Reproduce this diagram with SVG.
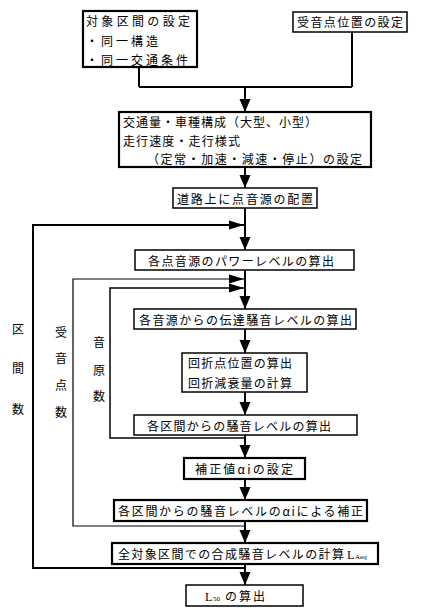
<svg xmlns="http://www.w3.org/2000/svg" width="428" height="614" viewBox="0 0 428 614">
<style>
.b{fill:#fff;stroke:#000;stroke-width:1.5}
.bt{fill:#fff;stroke:#000;stroke-width:2.2}
.t{font-family:"Noto Sans CJK JP","Liberation Sans",sans-serif;font-size:12px;fill:#000}
.s{font-family:"Liberation Serif",serif;font-size:7px;fill:#000}
.L{font-family:"Liberation Serif",serif;font-size:12px;fill:#000}
.c{fill:none;stroke:#000;stroke-width:2}
.c1{fill:none;stroke:#000;stroke-width:1.2}
</style>
<defs>
<marker id="ah" markerUnits="userSpaceOnUse" markerWidth="14" markerHeight="12" refX="13" refY="6" orient="auto">
<path d="M0,0.5 L13,6 L0,11.5 z" fill="#000"/>
</marker>
<marker id="as" markerUnits="userSpaceOnUse" markerWidth="16" markerHeight="10" refX="15" refY="5" orient="auto">
<path d="M0,0.5 L15,5 L0,9.5 z" fill="#000"/>
</marker>
</defs>
<g id="connectors">
<path class="c" d="M139,67 V87 M352,32 V87 M139,87 H352"/>
<line class="c" x1="245" y1="87" x2="245" y2="112" marker-end="url(#ah)"/>
<line class="c" x1="245" y1="167" x2="245" y2="188" marker-end="url(#ah)"/>
<line class="c" x1="245" y1="208" x2="245" y2="250" marker-end="url(#ah)"/>
<line class="c" x1="245" y1="270" x2="245" y2="309" marker-end="url(#ah)"/>
<line class="c" x1="245" y1="329" x2="245" y2="353" marker-end="url(#ah)"/>
<line class="c" x1="245" y1="392" x2="245" y2="415" marker-end="url(#ah)"/>
<line class="c" x1="245" y1="435" x2="245" y2="458" marker-end="url(#ah)"/>
<line class="c" x1="245" y1="479" x2="245" y2="500" marker-end="url(#ah)"/>
<line class="c" x1="245" y1="521" x2="245" y2="543" marker-end="url(#ah)"/>
<line class="c" x1="245" y1="564" x2="245" y2="585" marker-end="url(#ah)"/>
<path class="c" d="M245,568 H33 V225 H244" marker-end="url(#as)"/>
<path class="c1" d="M245,526 H73 V279 H244" marker-end="url(#as)"/>
<path class="c" style="stroke-width:1.5" d="M245,438 H110 V288 H244" marker-end="url(#as)"/>
</g>
<g id="n1"><rect class="bt" x="83" y="11" width="114" height="56"/>
<text class="t" x="86" y="26" textLength="104" lengthAdjust="spacing">対象区間の設定</text>
<text class="t" x="86" y="46" textLength="72" lengthAdjust="spacing">・同一構造</text>
<text class="t" x="86" y="65" textLength="102" lengthAdjust="spacing">・同一交通条件</text></g>
<g id="n2"><rect class="b" x="293" y="12" width="114" height="20"/>
<text class="t" x="297" y="27" textLength="106" lengthAdjust="spacing">受音点位置の設定</text></g>
<g id="n3"><rect class="bt" x="119" y="112" width="252" height="55"/>
<text class="t" x="123" y="127" textLength="194" lengthAdjust="spacing">交通量・車種構成（大型、小型）</text>
<text class="t" x="123" y="146" textLength="117" lengthAdjust="spacing">走行速度・走行様式</text>
<text class="t" x="147" y="164" textLength="215" lengthAdjust="spacing">（定常・加速・減速・停止）の設定</text></g>
<g id="n4"><rect class="b" x="173" y="188" width="144" height="20"/>
<text class="t" x="177" y="204" textLength="136" lengthAdjust="spacing">道路上に点音源の配置</text></g>
<g id="n5"><rect class="b" x="135" y="250" width="219" height="20"/>
<text class="t" x="148" y="266" textLength="186" lengthAdjust="spacing">各点音源のパワーレベルの算出</text></g>
<g id="n6"><rect class="b" x="134" y="309" width="222" height="20"/>
<text class="t" x="139" y="325" textLength="213" lengthAdjust="spacing">各音源からの伝達騒音レベルの算出</text></g>
<g id="n7"><rect class="b" x="182" y="353" width="125" height="39"/>
<text class="t" x="188" y="368" textLength="104" lengthAdjust="spacing">回折点位置の算出</text>
<text class="t" x="188" y="388" textLength="104" lengthAdjust="spacing">回折減衰量の計算</text></g>
<g id="n8"><rect class="b" x="134" y="415" width="223" height="20"/>
<text class="t" x="147" y="431" textLength="184" lengthAdjust="spacing">各区間からの騒音レベルの算出</text></g>
<g id="n9"><rect class="bt" x="184" y="458" width="121" height="21"/>
<text class="t" x="195" y="474" textLength="98" lengthAdjust="spacing">補正値αiの設定</text></g>
<g id="n10"><rect class="bt" x="114" y="500" width="253" height="21"/>
<text class="t" x="118" y="516" textLength="245" lengthAdjust="spacing">各区間からの騒音レベルのαiによる補正</text></g>
<g id="n11"><rect class="bt" x="112" y="543" width="266" height="21"/>
<text class="t" x="118" y="559" textLength="226" lengthAdjust="spacing">全対象区間での合成騒音レベルの計算</text>
<text class="L" x="347" y="559">L</text><text class="s" x="355" y="559">Aeq</text></g>
<g id="n12"><rect class="b" x="186" y="585" width="117" height="21"/>
<text class="L" x="205" y="601">L</text><text class="s" x="213" y="601">50</text>
<text class="t" x="225" y="601" textLength="40" lengthAdjust="spacing">の算出</text></g>
<g id="labels">
<text class="t" x="12" y="334">区</text>
<text class="t" x="12" y="373">間</text>
<text class="t" x="12" y="414">数</text>
<text class="t" x="55" y="337">受</text>
<text class="t" x="55" y="363">音</text>
<text class="t" x="55" y="390">点</text>
<text class="t" x="55" y="417">数</text>
<text class="t" x="93" y="347">音</text>
<text class="t" x="93" y="375">原</text>
<text class="t" x="93" y="401">数</text>
</g>
</svg>
